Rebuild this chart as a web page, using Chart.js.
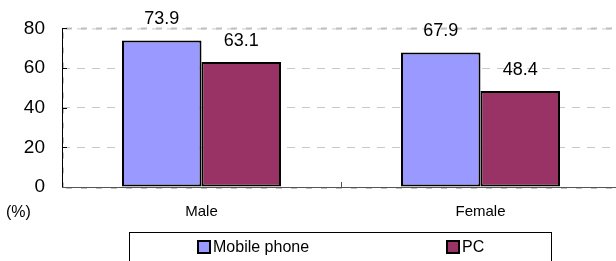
<!DOCTYPE html>
<html>
<head>
<meta charset="utf-8">
<script src="https://cdn.jsdelivr.net/npm/chart.js@4.4.1/dist/chart.umd.min.js"></script>
<style>
    html, body { margin: 0; padding: 0; background: #fff; overflow: hidden; }
    #wrap { width: 620px; height: 261px; }
</style>
</head>
<body>
<div id="wrap"><canvas id="usageChart" width="620" height="261"></canvas></div>
<script>
// chart data
const categories = ['Male', 'Female'];
const mobileValues = [73.9, 67.9];
const pcValues = [63.1, 48.4];
const seriesNames = ['Mobile phone', 'PC'];
const yTicks = [0, 20, 40, 60, 80];

const FONT = "'Liberation Sans', Arial, sans-serif";

// plot frame, axis lines, little inside ticks
const framePlugin = {
    id: 'frame',
    beforeDatasetsDraw(chart) {
        const { ctx, chartArea: a, scales } = chart;
        ctx.save();
        // top + left border of plot area (dashed grey)
        ctx.strokeStyle = '#c8c8c8';
        ctx.lineWidth = 1;
        ctx.setLineDash([8, 7]);
        ctx.beginPath();
        ctx.moveTo(a.left, a.top + 0.5);
        ctx.lineTo(a.right, a.top + 0.5);
        ctx.stroke();
        ctx.strokeStyle = '#c0c0c0';
        ctx.lineWidth = 2;
        ctx.setLineDash([6, 9]);
        ctx.lineDashOffset = -4;
        ctx.beginPath();
        ctx.moveTo(a.left, a.top);
        ctx.lineTo(a.right, a.top);
        ctx.moveTo(a.left + 1, a.top);
        ctx.lineTo(a.left + 1, a.bottom);
        ctx.moveTo(a.left, a.bottom + 1);
        ctx.lineTo(a.right, a.bottom + 1);
        ctx.stroke();
        ctx.setLineDash([]);
        ctx.lineDashOffset = 0;
        // axis lines
        ctx.lineWidth = 1;
        ctx.strokeStyle = '#000';
        ctx.beginPath();
        ctx.moveTo(a.left + 0.5, a.top);
        ctx.lineTo(a.left + 0.5, a.bottom);
        yTicks.forEach(v => {
            const y = Math.round(scales.y.getPixelForValue(v)) + 0.5;
            ctx.moveTo(a.left, y);
            ctx.lineTo(a.left + 5, y);
        });
        ctx.stroke();
        ctx.strokeStyle = '#555';
        ctx.beginPath();
        ctx.moveTo(a.left, a.bottom + 0.5);
        ctx.lineTo(a.right, a.bottom + 0.5);
        // tick between categories
        const mid = Math.round((scales.x.getPixelForValue(0) + scales.x.getPixelForValue(1)) / 2) + 0.5;
        ctx.moveTo(mid, a.bottom);
        ctx.lineTo(mid, a.bottom - 5);
        ctx.stroke();
        ctx.restore();
    },
    afterDraw(chart) {
        const { ctx } = chart;
        ctx.save();
        ctx.font = '16px ' + FONT;
        ctx.fillStyle = '#000';
        ctx.textAlign = 'left';
        ctx.textBaseline = 'middle';
        ctx.fillText('(%)', 6, 213);
        ctx.restore();
    }
};

// values above bars
const valueLabels = {
    id: 'valueLabels',
    afterDatasetsDraw(chart) {
        const { ctx } = chart;
        ctx.save();
        ctx.font = '18px ' + FONT;
        ctx.fillStyle = '#000';
        ctx.textAlign = 'center';
        ctx.textBaseline = 'middle';
        chart.data.datasets.forEach((ds, i) => {
            chart.getDatasetMeta(i).data.forEach((bar, j) => {
                ctx.fillText(ds.data[j].toFixed(1), bar.x, bar.y - 21);
            });
        });
        ctx.restore();
    }
};

// boxed legend at the bottom
const boxLegend = {
    id: 'boxLegend',
    afterDraw(chart) {
        const { ctx } = chart;
        const left = 129, right = 551, top = 232, bottom = 262;
        ctx.save();
        ctx.fillStyle = '#fff';
        ctx.fillRect(left, top, right - left, bottom - top);
        ctx.strokeStyle = '#000';
        ctx.lineWidth = 1;
        ctx.strokeRect(left + 0.5, top + 0.5, right - left, bottom - top);
        const xs = [198, 447];
        ctx.font = '16px ' + FONT;
        ctx.textBaseline = 'middle';
        ctx.textAlign = 'left';
        chart.data.datasets.forEach((ds, i) => {
            const x = xs[i], y = 247;
            ctx.fillStyle = ds.backgroundColor;
            ctx.fillRect(x, y - 6, 12, 12);
            ctx.lineWidth = 2;
            ctx.strokeStyle = '#000';
            ctx.strokeRect(x, y - 6, 12, 12);
            ctx.fillStyle = '#000';
            ctx.fillText(ds.label, x + 15, y + 1);
        });
        ctx.restore();
    }
};

const ctx = document.getElementById('usageChart').getContext('2d');
new Chart(ctx, {
    type: 'bar',
    data: {
        labels: categories,
        datasets: [
            {
                label: seriesNames[0],
                data: mobileValues,
                backgroundColor: '#9999ff',
                borderColor: '#000',
                borderWidth: 2,
                borderSkipped: false
            },
            {
                label: seriesNames[1],
                data: pcValues,
                backgroundColor: '#993366',
                borderColor: '#000',
                borderWidth: 2,
                borderSkipped: false
            }
        ]
    },
    options: {
        responsive: false,
        animation: false,
        layout: { padding: { top: 25, right: 0, left: 0, bottom: 0 } },
        plugins: {
            legend: { display: false },
            tooltip: { enabled: false }
        },
        datasets: {
            bar: { categoryPercentage: 0.57, barPercentage: 1 }
        },
        scales: {
            x: {
                grid: { display: false, drawTicks: false },
                border: { display: false },
                ticks: {
                    color: '#000',
                    font: { family: FONT, size: 15 },
                    padding: 16
                },
                afterFit(scale) { scale.height = 74; }
            },
            y: {
                min: 0,
                max: 80,
                afterBuildTicks(scale) {
                    scale.ticks = yTicks.map(v => ({ value: v }));
                },
                grid: {
                    color: ctx => (ctx.tick && (ctx.tick.value === 0 || ctx.tick.value === 80)) ? 'rgba(0,0,0,0)' : '#c8c8c8',
                    drawTicks: false
                },
                border: { display: false, dash: [8, 7] },
                ticks: {
                    color: '#000',
                    font: { family: FONT, size: 19 },
                    padding: 17
                },
                afterFit(scale) { scale.width = 62; }
            }
        }
    },
    plugins: [framePlugin, valueLabels, boxLegend]
});
</script>
</body>
</html>
